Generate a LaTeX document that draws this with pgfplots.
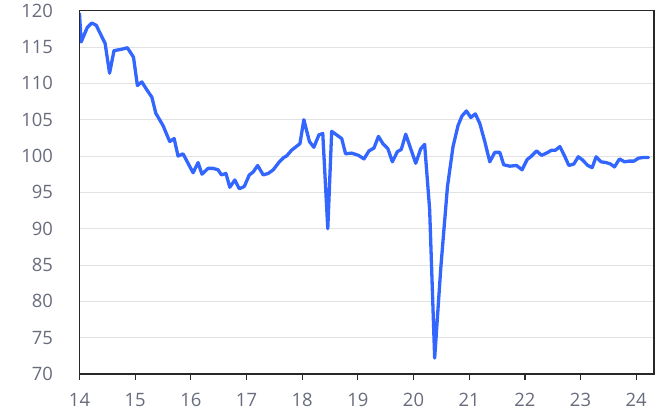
\documentclass[border=0pt]{standalone}
\usepackage{pgfplots}
\pgfplotsset{compat=1.18}
\usepackage{fontspec}
\setmainfont{Open Sans}
\definecolor{linebl}{RGB}{51,102,255}
\definecolor{lblgray}{RGB}{104,108,124}
\definecolor{gridgr}{RGB}{226,226,226}
\definecolor{axisdk}{RGB}{40,40,40}
\begin{document}
\begin{tikzpicture}
\begin{axis}[
    scale only axis,
    width=574.5bp, height=363.3bp,
    xmin=14, xmax=24.32,
    ymin=70, ymax=120,
    xtick={14,15,...,24},
    ytick={70,75,...,120},
    ymajorgrids=true,
    grid style={gridgr, line width=1pt},
    axis line style={axisdk, line width=1.3pt},
    xtick pos=bottom,
    ytick style={draw=none},
    xtick style={axisdk, line width=1.3pt},
    tick align=outside,
    major tick length=6bp,
    ticklabel style={text=lblgray, font=\fontsize{18.5}{22}\selectfont},
    /pgf/number format/assume math mode=true,
    xticklabel style={yshift=-10bp},
    yticklabel style={xshift=-17bp},
]
\addplot[linebl, line width=3.3bp, line join=round, line cap=round] coordinates {
(14.00,119.6) (14.03,115.7) (14.14,117.7) (14.22,118.3) (14.30,118.0)
(14.37,116.9) (14.46,115.5) (14.54,111.4) (14.62,114.5) (14.76,114.7)
(14.86,114.9) (14.97,113.6) (15.04,109.7) (15.12,110.2) (15.21,109.1)
(15.30,108.1) (15.37,105.9) (15.50,104.2) (15.62,102.0) (15.70,102.4)
(15.77,100.0) (15.86,100.3) (15.95,99.0) (16.04,97.7) (16.13,99.1)
(16.20,97.5) (16.31,98.3) (16.40,98.3) (16.49,98.1) (16.55,97.4)
(16.63,97.6) (16.70,95.7) (16.79,96.7) (16.87,95.5) (16.96,95.8)
(17.05,97.4) (17.12,97.8) (17.20,98.7) (17.30,97.4) (17.39,97.6)
(17.48,98.1) (17.59,99.2) (17.67,99.8) (17.72,100.0) (17.81,100.8)
(17.96,101.7) (18.03,105.0) (18.13,102.0) (18.21,101.2) (18.30,102.9)
(18.37,103.1) (18.46,90.0) (18.53,103.4) (18.62,102.9) (18.71,102.4)
(18.78,100.3) (18.89,100.4) (19.01,100.1) (19.11,99.6) (19.20,100.7)
(19.29,101.1) (19.37,102.7) (19.45,101.7) (19.54,101.0) (19.62,99.2)
(19.71,100.6) (19.78,100.9) (19.86,103.0) (19.95,101.0) (20.04,99.0)
(20.13,101.0) (20.20,101.6) (20.29,92.6) (20.38,72.2) (20.49,84.6)
(20.61,95.8) (20.71,101.3) (20.80,104.2) (20.87,105.5) (20.95,106.2)
(21.03,105.3) (21.11,105.8) (21.19,104.5) (21.28,102.0) (21.37,99.2)
(21.46,100.5) (21.55,100.5) (21.62,98.8) (21.73,98.6) (21.85,98.7)
(21.95,98.1) (22.04,99.5) (22.12,100.0) (22.21,100.7) (22.30,100.1)
(22.39,100.4) (22.48,100.8) (22.55,100.8) (22.63,101.3) (22.72,99.9)
(22.79,98.7) (22.88,98.9) (22.96,99.9) (23.03,99.5) (23.13,98.7)
(23.21,98.4) (23.28,99.9) (23.37,99.2) (23.46,99.1) (23.54,98.9)
(23.61,98.5) (23.70,99.6) (23.79,99.2) (23.87,99.3) (23.96,99.3)
(24.04,99.7) (24.13,99.8) (24.22,99.8)
};
\end{axis}
\draw[axisdk, line width=1.3pt] (current axis.south west) rectangle (current axis.north east);
\path ([xshift=-79.5bp,yshift=-44bp]current axis.south west) rectangle ([xshift=10bp,yshift=10.7bp]current axis.north east);
\end{tikzpicture}
\end{document}
